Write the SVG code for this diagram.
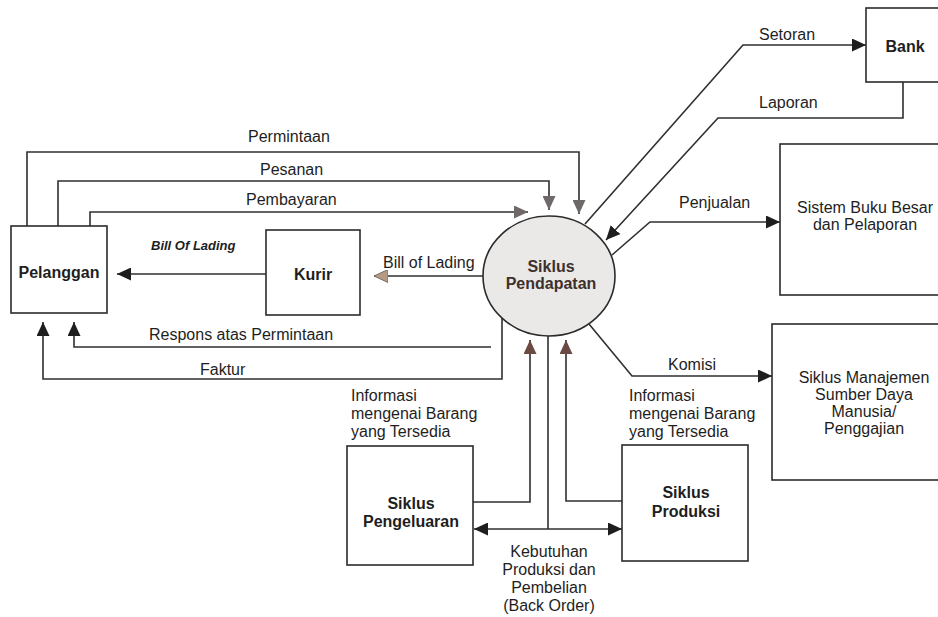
<svg xmlns="http://www.w3.org/2000/svg" width="938" height="617" viewBox="0 0 938 617">
  <style>
    .box { fill: #ffffff; stroke: #2b2b2b; stroke-width: 1.6; }
    .proc { fill: #ebe9e8; stroke: #2b2b2b; stroke-width: 1.6; }
    .flow { fill: none; stroke: #2f2f2f; stroke-width: 1.6; }
    .lbl { font-family: "Liberation Sans", Arial, sans-serif; font-size: 16px; fill: #1e1e1e; }
    .nb { font-family: "Liberation Sans", Arial, sans-serif; font-size: 16px; font-weight: bold; fill: #1e1e1e; text-anchor: middle; }
    .nr { font-family: "Liberation Sans", Arial, sans-serif; font-size: 16px; fill: #1e1e1e; text-anchor: middle; }
    .ctr { text-anchor: middle; }
  </style>
  <defs>
    <marker id="arr" markerUnits="userSpaceOnUse" markerWidth="14" markerHeight="13" refX="14" refY="6.5" orient="auto">
      <path d="M0,0 L14,6.5 L0,13 z" fill="#1e1e1e"/>
    </marker>
    <marker id="arrGray" markerUnits="userSpaceOnUse" markerWidth="14" markerHeight="13" refX="14" refY="6.5" orient="auto">
      <path d="M0,0 L14,6.5 L0,13 z" fill="#6e6868"/>
    </marker>
    <marker id="arrBrown" markerUnits="userSpaceOnUse" markerWidth="14" markerHeight="13" refX="14" refY="6.5" orient="auto">
      <path d="M0,0 L14,6.5 L0,13 z" fill="#6b4a44"/>
    </marker>
    <marker id="arrLight" markerUnits="userSpaceOnUse" markerWidth="14" markerHeight="13" refX="14" refY="6.5" orient="auto">
      <path d="M0,0 L14,6.5 L0,13 z" fill="#b59a86" stroke="#7a6a60" stroke-width="1"/>
    </marker>
  </defs>

  <rect width="938" height="617" fill="#ffffff"/>

  <!-- connectors -->
  <g id="connectors">
    <path class="flow" d="M27,226 V152 H579 V214" marker-end="url(#arrGray)"/>
    <path class="flow" d="M58,226 V181 H549 V210" marker-end="url(#arrGray)"/>
    <path class="flow" d="M90,226 V212 H528" marker-end="url(#arrGray)"/>
    <path class="flow" d="M483,276 H374" marker-end="url(#arrLight)"/>
    <path class="flow" d="M266,274 H117" marker-end="url(#arr)"/>
    <path class="flow" d="M491,347 H74 V322" marker-end="url(#arr)"/>
    <path class="flow" d="M502,318 V379 H43 V322" marker-end="url(#arr)"/>
    <path class="flow" d="M473,502 H530 V340" marker-end="url(#arrBrown)"/>
    <path class="flow" d="M548,336 V529"/>
    <path class="flow" d="M548,529 H474" marker-end="url(#arr)"/>
    <path class="flow" d="M548,529 H622" marker-end="url(#arr)"/>
    <path class="flow" d="M622,501 H566 V340" marker-end="url(#arrBrown)"/>
    <path class="flow" d="M589,324 L632,376 H772" marker-end="url(#arr)"/>
    <path class="flow" d="M585,224 L743,45 H866" marker-end="url(#arr)"/>
    <path class="flow" d="M903,82 V118 H718 L606,240" marker-end="url(#arr)"/>
    <path class="flow" d="M612,255 L650,222 H780" marker-end="url(#arr)"/>

    <text class="lbl" x="248" y="142">Permintaan</text>
    <text class="lbl" x="260" y="175">Pesanan</text>
    <text class="lbl" x="246" y="205">Pembayaran</text>
    <text class="lbl" x="151" y="250" style="font-size:13px;font-weight:bold;font-style:italic">Bill Of Lading</text>
    <text class="lbl" x="383" y="268">Bill of Lading</text>
    <text class="lbl" x="149" y="340">Respons atas Permintaan</text>
    <text class="lbl" x="200" y="375">Faktur</text>
    <text class="lbl" x="759" y="40">Setoran</text>
    <text class="lbl" x="759" y="108">Laporan</text>
    <text class="lbl" x="679" y="208">Penjualan</text>
    <text class="lbl" x="668" y="370">Komisi</text>
    <text class="lbl" x="351" y="401">Informasi</text>
    <text class="lbl" x="351" y="419">mengenai Barang</text>
    <text class="lbl" x="351" y="437">yang Tersedia</text>
    <text class="lbl" x="629" y="401">Informasi</text>
    <text class="lbl" x="629" y="419">mengenai Barang</text>
    <text class="lbl" x="629" y="437">yang Tersedia</text>
    <text class="lbl ctr" x="549" y="557">Kebutuhan</text>
    <text class="lbl ctr" x="549" y="575">Produksi dan</text>
    <text class="lbl ctr" x="549" y="593">Pembelian</text>
    <text class="lbl ctr" x="549" y="611">(Back Order)</text>
  </g>

  <!-- nodes -->
  <g id="pelanggan">
    <rect class="box" x="11" y="226" width="96" height="87"/>
    <text class="nb" x="59" y="278">Pelanggan</text>
  </g>
  <g id="kurir">
    <rect class="box" x="266" y="230" width="94" height="85"/>
    <text class="nb" x="313" y="280">Kurir</text>
  </g>
  <g id="siklus-pendapatan">
    <ellipse class="proc" cx="549" cy="276" rx="66" ry="60"/>
    <text class="nb" x="551" y="272" style="fill:#3e302c">Siklus</text>
    <text class="nb" x="551" y="289" style="fill:#3e302c">Pendapatan</text>
  </g>
  <g id="bank">
    <rect class="box" x="866" y="8" width="80" height="74"/>
    <text class="nb" x="905" y="52">Bank</text>
  </g>
  <g id="buku-besar">
    <rect class="box" x="780" y="144" width="170" height="151"/>
    <text class="nr" x="865" y="213">Sistem Buku Besar</text>
    <text class="nr" x="865" y="230">dan Pelaporan</text>
  </g>
  <g id="sdm">
    <rect class="box" x="772" y="324" width="180" height="156"/>
    <text class="nr" x="864" y="383">Siklus Manajemen</text>
    <text class="nr" x="864" y="400">Sumber Daya</text>
    <text class="nr" x="864" y="417">Manusia/</text>
    <text class="nr" x="864" y="434">Penggajian</text>
  </g>
  <g id="pengeluaran">
    <rect class="box" x="347" y="446" width="126" height="119"/>
    <text class="nb" x="411" y="509">Siklus</text>
    <text class="nb" x="411" y="527">Pengeluaran</text>
  </g>
  <g id="produksi">
    <rect class="box" x="622" y="445" width="126" height="116"/>
    <text class="nb" x="686" y="498">Siklus</text>
    <text class="nb" x="686" y="517">Produksi</text>
  </g>
</svg>
